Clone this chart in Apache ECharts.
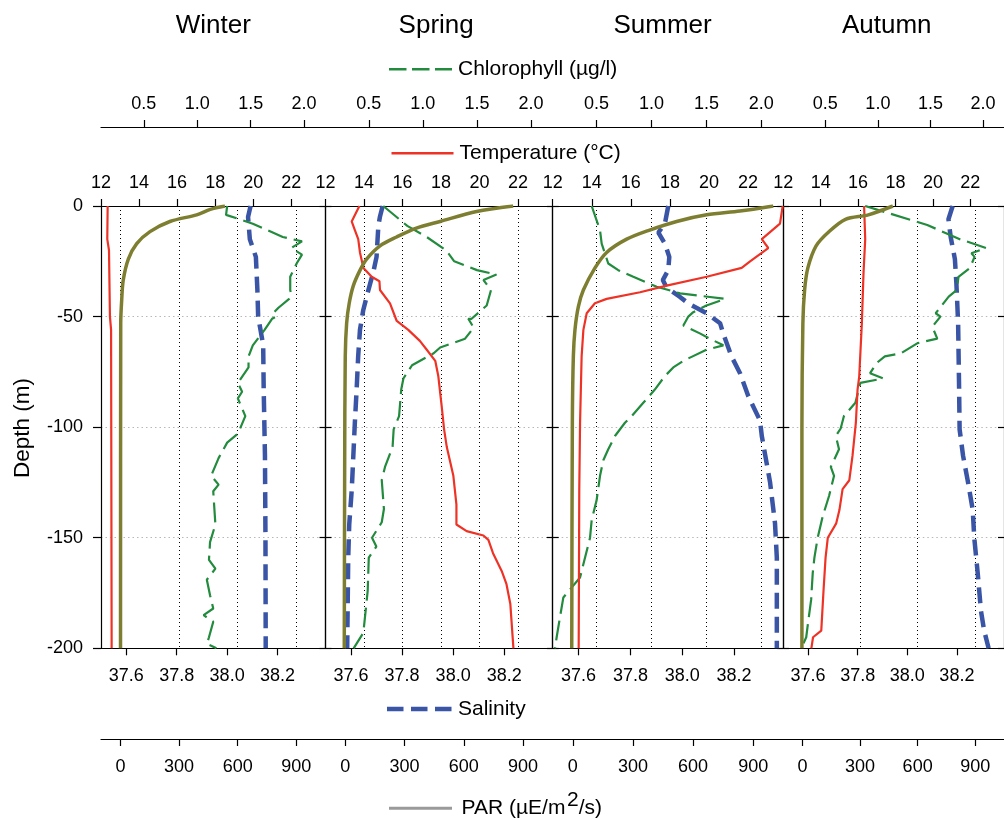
<!DOCTYPE html>
<html>
<head>
<meta charset="utf-8">
<title>Seasonal profiles</title>
<script src="https://cdn.jsdelivr.net/npm/echarts@6/dist/echarts.min.js"></script>
<style>
html,body{margin:0;padding:0;background:#fff;}
#main{width:1004px;height:820px;}
</style>
</head>
<body>
<div id="main"></div>
<script>
var seasons = ['Winter', 'Spring', 'Summer', 'Autumn'];

// tick values of the axes
var chlTicks = [0.5, 1.0, 1.5, 2.0];
var tempTicks = [12, 14, 16, 18, 20, 22];
var salTicks = [37.6, 37.8, 38.0, 38.2];
var parTicks = [0, 300, 600, 900];

// profiles: [value, depth (m)]
var winterTemp = [[12.35,0],[12.33,-15],[12.42,-20],[12.47,-50],[12.53,-56],[12.56,-200]];
var winterChl = [[1.28,0],[1.27,-4],[1.52,-8],[1.80,-14],[1.98,-16],[1.88,-19],[1.98,-22],[1.93,-26],[1.87,-32],
  [1.87,-38],[1.88,-40],[1.86,-42],[1.76,-46],[1.72,-48],[1.74,-50],[1.70,-51],[1.63,-56],[1.52,-63],[1.48,-68],
  [1.48,-73],[1.38,-80],[1.42,-84],[1.38,-87],[1.45,-95],[1.38,-103],[1.28,-107],[1.20,-114],[1.13,-122],[1.20,-126],
  [1.15,-129],[1.17,-144],[1.12,-152],[1.11,-160],[1.17,-164],[1.09,-169],[1.12,-176],[1.15,-182],[1.06,-185],
  [1.15,-188],[1.11,-195],[1.09,-198],[1.18,-200]];
var winterSal = [[38.093,0],[38.083,-5],[38.09,-15],[38.114,-23],[38.12,-38],[38.123,-50],[38.143,-63],[38.145,-83],
  [38.15,-113],[38.152,-150],[38.153,-200]];
var winterPar = [[535,0],[460,-1.5],[390,-4],[253,-7],[151,-11.6],[83,-17],[40,-24],[14,-33.5],[6,-42.5],[1,-53],[0,-200]];

var springTemp = [[13.76,0],[13.36,-7],[13.53,-11],[13.7,-15],[13.79,-21],[13.97,-28],[14.4,-32],[14.8,-34],[14.83,-38],
  [15.35,-44],[15.7,-52],[16.3,-56],[16.9,-61],[17.26,-65],[17.7,-70],[17.86,-77],[18.04,-91],[18.16,-101],[18.3,-109],
  [18.64,-122],[18.8,-135],[18.8,-144],[19.33,-147],[20.2,-149],[20.46,-151],[20.7,-157],[21.15,-165],[21.4,-171],
  [21.6,-180],[21.76,-200]];
var springChl = [[0.634,0],[0.856,-9],[1.035,-14],[1.214,-20],[1.29,-25],[1.50,-29],[1.68,-31],[1.56,-33.5],[1.63,-38],
  [1.59,-45],[1.45,-51],[1.42,-51],[1.47,-55],[1.39,-60],[1.16,-64],[1.10,-66.6],[0.90,-72],[0.82,-78],[0.80,-83],
  [0.78,-95],[0.73,-101],[0.72,-109],[0.65,-118],[0.62,-124],[0.64,-137],[0.62,-143],[0.53,-150],[0.57,-154],
  [0.50,-159],[0.49,-174],[0.45,-193],[0.36,-200]];
var springSal = [[37.724,0],[37.713,-5],[37.707,-9],[37.70,-23],[37.687,-30],[37.668,-38],[37.648,-47],[37.635,-56],
  [37.628,-68],[37.622,-83],[37.615,-98],[37.609,-113],[37.603,-128],[37.593,-144],[37.589,-159],[37.585,-200]];
var springPar = [[850,0],[665,-2.5],[480,-7],[360,-10],[260,-14],[176,-18],[108,-24],[75,-29],[41,-36],[20,-44],
  [7,-53],[0,-68],[-3,-120],[-5,-200]];

var summerTemp = [[23.77,0],[23.63,-8],[22.7,-15],[23.03,-19],[22.1,-25],[21.67,-28],[19.88,-32],[17.83,-36],
  [16.47,-39],[14.76,-42],[14.16,-44],[13.74,-48.5],[13.57,-56],[13.48,-68],[13.4,-98],[13.36,-128],[13.33,-200]];
var summerChl = [[0.455,0],[0.531,-11],[0.546,-17],[0.606,-26],[0.697,-29],[0.834,-32],[1.047,-36.5],[1.26,-39.5],
  [1.67,-42],[1.50,-45],[1.38,-48],[1.335,-50],[1.29,-54],[1.44,-57.6],[1.53,-60],[1.654,-63],[1.50,-65],[1.29,-70],
  [1.198,-73],[1.12,-77],[1.03,-83],[0.925,-89],[0.82,-95],[0.758,-98],[0.667,-104],[0.606,-110],[0.561,-115],
  [0.531,-122],[0.50,-133],[0.455,-142],[0.44,-150],[0.349,-168],[0.197,-177],[0.166,-186],[0.136,-195],[0.121,-200]];
var summerSal = [[37.946,0],[37.933,-8],[37.908,-12],[37.933,-17],[37.95,-23],[37.946,-29],[37.925,-33.5],[37.94,-37],
  [37.99,-41],[38.023,-44],[38.094,-48.5],[38.146,-53],[38.158,-57.6],[38.19,-68],[38.223,-75.6],[38.255,-86],
  [38.30,-97],[38.307,-104],[38.339,-125],[38.358,-143.5],[38.365,-159],[38.365,-200]];
var summerPar = [[1000,0],[834,-2.3],[668,-4],[518,-7],[380,-11],[269,-15],[169,-21],[111,-28],[53,-38],[28,-45.5],
  [11,-56],[3,-68],[-2,-98],[-5,-200]];

var autumnTemp = [[16.32,0],[16.38,-15],[16.29,-30],[16.2,-53],[16.06,-77],[15.97,-83],[15.88,-98],[15.7,-113],
  [15.53,-124],[15.17,-128],[15.0,-137.5],[14.83,-143.5],[14.38,-150],[14.26,-159],[14.15,-174],[14.03,-192],
  [13.59,-195],[13.5,-200]];
var autumnChl = [[0.879,0],[1.47,-8.6],[1.78,-15],[2.03,-19],[1.89,-21.4],[1.92,-23],[1.876,-28],[1.767,-32],[1.75,-38],
  [1.674,-41],[1.55,-48.5],[1.595,-50],[1.518,-54.6],[1.565,-60],[1.378,-62],[1.22,-66.6],[1.066,-68],[0.988,-71],
  [0.926,-75.6],[1.05,-78],[0.833,-80],[0.786,-89],[0.677,-95],[0.646,-100.6],[0.60,-104],[0.63,-110],[0.552,-118],
  [0.583,-122],[0.536,-131],[0.474,-140.5],[0.427,-150],[0.396,-159],[0.38,-166],[0.365,-178],[0.334,-189],
  [0.318,-195],[0.272,-200]];
var autumnSal = [[38.183,0],[38.166,-6],[38.175,-14],[38.192,-24],[38.198,-35],[38.205,-53],[38.209,-83],[38.211,-101],
  [38.225,-113],[38.245,-125],[38.264,-137.5],[38.27,-150],[38.284,-166],[38.297,-183],[38.31,-192],[38.328,-200]];
var autumnPar = [[471,0],[343,-4],[224,-6],[139,-11.5],[71,-18],[28,-28],[11,-38],[2,-53],[-3,-100],[-3,-200]];

var profiles = [
  {temp: winterTemp, chl: winterChl, sal: winterSal, par: winterPar},
  {temp: springTemp, chl: springChl, sal: springSal, par: springPar},
  {temp: summerTemp, chl: summerChl, sal: summerSal, par: summerPar},
  {temp: autumnTemp, chl: autumnChl, sal: autumnSal, par: autumnPar}
];

var font = 'Liberation Sans, Arial, sans-serif';
var panelLeft = [101, 325.5, 552.7, 783.3];
var panelWidth = [224.5, 227.2, 230.6, 224.5];
var plotTop = 206, plotHeight = 442.3;
// which axis gives the dotted vertical lines in each panel
var gridFrom = ['par', 'temp', 'chl', 'par'];

var red = '#ee3326', green = '#228b3d', blue = '#3a55a5', olive = '#7e7e31';

function xAxis(gi, pos, offset, range, ticks, digits, split) {
  return {
    type: 'value', gridIndex: gi, position: pos, offset: offset,
    min: range[0], max: range[1],
    axisLine: {show: true, onZero: false, lineStyle: {color: '#000', width: 1.2}},
    axisTick: {show: true, inside: false, length: 7, customValues: ticks, lineStyle: {color: '#000', width: 1.2}},
    axisLabel: {
      show: true, customValues: ticks, margin: pos == 'top' ? 13.5 : 19,
      fontSize: 18, color: '#000', fontFamily: font,
      formatter: function (v) { return v.toFixed(digits); }
    },
    splitLine: {show: split, lineStyle: {color: '#000', type: [1, 3], width: 1}}
  };
}

var grids = [], xAxes = [], yAxes = [], series = [];
for (var i = 0; i < 4; i++) {
  grids.push({left: panelLeft[i], width: panelWidth[i], top: plotTop, height: plotHeight});
  xAxes.push(xAxis(i, 'top', 79, [0.1, 2.2], chlTicks, 1, gridFrom[i] == 'chl'));
  xAxes.push(xAxis(i, 'top', 0, [12, 23.8], tempTicks, 0, gridFrom[i] == 'temp'));
  xAxes.push(xAxis(i, 'bottom', 0, [37.5, 38.39], salTicks, 1, false));
  xAxes.push(xAxis(i, 'bottom', 90.7, [-100, 1050], parTicks, 0, gridFrom[i] == 'par'));

  yAxes.push({
    type: 'value', gridIndex: i, position: 'left', min: -200, max: 0, interval: 50,
    axisLine: {show: true, onZero: false, lineStyle: {color: '#000', width: 1.2}},
    axisTick: {show: true, inside: i > 0, length: i > 0 ? 6 : 8, lineStyle: {color: '#000', width: 1.2}},
    axisLabel: {show: i == 0, margin: 18, fontSize: 18, color: '#000', fontFamily: font},
    splitLine: {show: true, lineStyle: {color: '#b8b8b8', type: [1.5, 3], width: 1}}
  });
  yAxes.push({
    type: 'value', gridIndex: i, position: 'right', min: -200, max: 0, interval: 50,
    axisLine: {show: true, onZero: false, lineStyle: {color: '#000', width: 1.2}},
    axisTick: {show: true, inside: true, length: 6, lineStyle: {color: '#000', width: 1.2}},
    axisLabel: {show: false},
    splitLine: {show: false}
  });

  var p = profiles[i];
  series.push({name: 'Salinity', type: 'line', xAxisIndex: 4 * i + 2, yAxisIndex: 2 * i, data: p.sal,
    symbol: 'none', z: 2, lineStyle: {color: blue, width: 4.5, type: [16, 8]}});
  series.push({name: 'Chlorophyll (µg/l)', type: 'line', xAxisIndex: 4 * i, yAxisIndex: 2 * i, data: p.chl,
    symbol: 'none', z: 3, lineStyle: {color: green, width: 2.2, type: [20, 7]}});
  series.push({name: 'Temperature (°C)', type: 'line', xAxisIndex: 4 * i + 1, yAxisIndex: 2 * i, data: p.temp,
    symbol: 'none', z: 4, lineStyle: {color: red, width: 2.2}});
  series.push({name: 'PAR', type: 'line', xAxisIndex: 4 * i + 3, yAxisIndex: 2 * i, data: p.par,
    symbol: 'none', z: 5, smooth: 0.3, lineStyle: {color: olive, width: 3.5}});
}

var titleX = [213.3, 436.2, 662.6, 886.7];
var graphics = [];
for (var k = 0; k < 4; k++) {
  graphics.push({type: 'text', x: titleX[k], y: 26, style: {text: seasons[k], font: '26px ' + font,
    fill: '#000', align: 'center', verticalAlign: 'middle'}});
}

function legendItem(y, x1, x2, color, width, dash, label, tx) {
  graphics.push({type: 'line', shape: {x1: x1, y1: y, x2: x2, y2: y},
    style: {stroke: color, lineWidth: width, lineDash: dash}});
  graphics.push({type: 'text', x: tx, y: y, style: {text: label, font: '21px ' + font,
    fill: '#000', align: 'left', verticalAlign: 'middle'}});
}
legendItem(69.3, 389, 452, green, 2.6, [17.5, 5.5], 'Chlorophyll (µg/l)', 458);
legendItem(153.3, 391.5, 453.5, red, 2.6, null, 'Temperature (°C)', 459.5);
legendItem(709, 387, 452, blue, 4.5, [16.5, 7.5], 'Salinity', 458);
legendItem(808.3, 389, 452, '#9a9a9a', 3, null, 'PAR (µE/m', 461.5);
graphics.push({type: 'text', x: 567, y: 800.5, style: {text: '2', font: '21px ' + font,
  fill: '#000', align: 'left', verticalAlign: 'middle'}});
graphics.push({type: 'text', x: 578.7, y: 808.3, style: {text: '/s)', font: '21px ' + font,
  fill: '#000', align: 'left', verticalAlign: 'middle'}});

graphics.push({type: 'text', x: 22.5, y: 428, rotation: Math.PI / 2,
  style: {text: 'Depth (m)', font: '22.5px ' + font, fill: '#000', align: 'center', verticalAlign: 'middle'}});

var chart = echarts.init(document.getElementById('main'));
chart.setOption({
  animation: false,
  backgroundColor: '#fff',
  grid: grids,
  xAxis: xAxes,
  yAxis: yAxes,
  series: series,
  graphic: graphics
});
</script>
</body>
</html>
